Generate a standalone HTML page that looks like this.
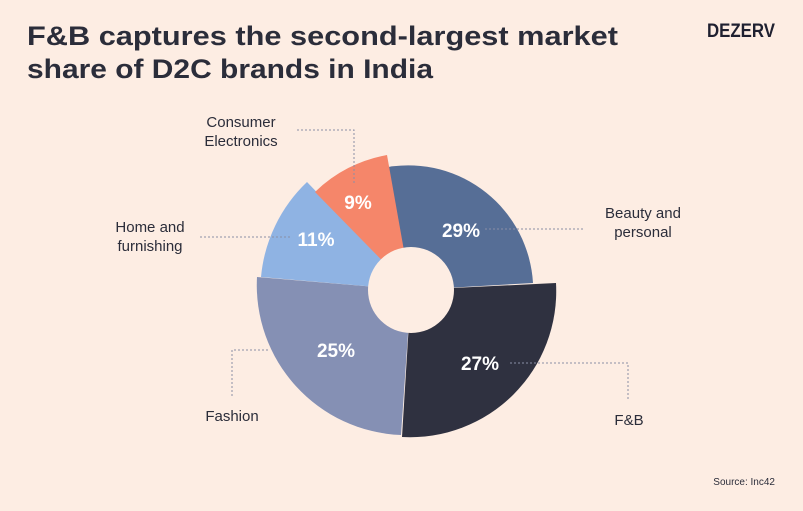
<!DOCTYPE html>
<html><head><style>
html,body{margin:0;padding:0;background:#fdede3;}
svg{display:block;font-family:"Liberation Sans",sans-serif;}
</style></head><body>
<svg width="803" height="511" viewBox="0 0 803 511">
<rect width="803" height="511" fill="#fdede3"/>
<text x="27" y="45" font-size="27" font-weight="bold" fill="#2b2d3a" textLength="591" lengthAdjust="spacingAndGlyphs">F&amp;B captures the second-largest market</text>
<text x="27" y="78" font-size="27" font-weight="bold" fill="#2b2d3a" textLength="406" lengthAdjust="spacingAndGlyphs">share of D2C brands in India</text>
<text x="707" y="37" font-size="19" font-weight="bold" fill="#1f2030" textLength="68" lengthAdjust="spacingAndGlyphs">DEZERV</text>
<text x="775" y="485" font-size="10" fill="#2b2d3a" text-anchor="end">Source: Inc42</text>
<g transform="translate(411,290)">
<path d="M-23,-123 A125,125 0 0 1 122,-7 L0,0 Z" fill="#566e96"/>
<path d="M145,-7 A146,146 0 0 1 -9,147 L0,0 Z" fill="#2f3140"/>
<path d="M-10,145 A150,150 0 0 1 -154,-13 L0,0 Z" fill="#8590b4"/>
<path d="M-150,-13 A150,150 0 0 1 -104,-108 L0,0 Z" fill="#8fb3e3"/>
<path d="M-96,-98 A137,137 0 0 1 -24,-135 L0,0 Z" fill="#f5866a"/>
<circle cx="0" cy="0" r="43" fill="#fdede3"/>
</g>
<g fill="none" stroke="#8a8fa6" stroke-width="1" stroke-dasharray="2,2">
<polyline points="297,130 354,130 354,185"/>
<polyline points="200,237 290,237"/>
<polyline points="485,229 585,229"/>
<polyline points="268,350 232,350 232,398"/>
<polyline points="510,363 628,363 628,400"/>
</g>
<g fill="#fff" font-size="19" font-weight="bold" text-anchor="middle">
<text x="358" y="209">9%</text>
<text x="316" y="246">11%</text>
<text x="461" y="237">29%</text>
<text x="336" y="357">25%</text>
<text x="480" y="370">27%</text>
</g>
<g fill="#2b2d3a" font-size="15" text-anchor="middle">
<text x="241" y="127">Consumer</text>
<text x="241" y="146">Electronics</text>
<text x="150" y="232">Home and</text>
<text x="150" y="251">furnishing</text>
<text x="643" y="218">Beauty and</text>
<text x="643" y="237">personal</text>
<text x="232" y="421">Fashion</text>
<text x="629" y="425">F&amp;B</text>
</g>
</svg>
</body></html>
